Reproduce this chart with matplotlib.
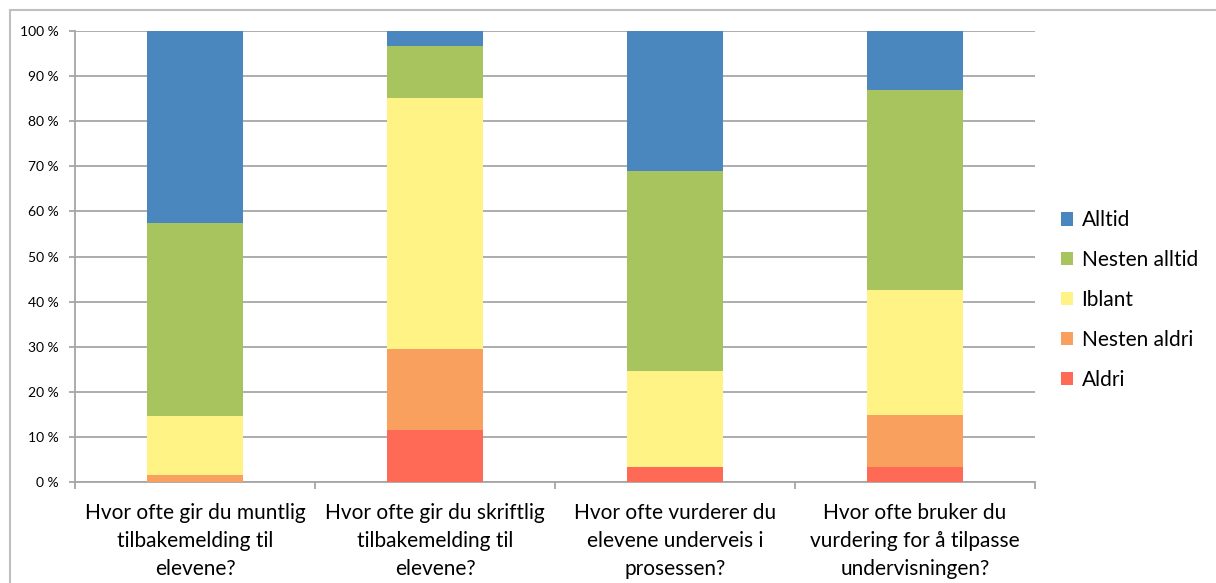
import numpy as np
import matplotlib.pyplot as plt
from matplotlib.lines import Line2D

plt.rcParams['font.family'] = ['Lato', 'DejaVu Sans']

# Spørsmål (kategorier) og svarfordeling i prosent
questions = [
    "Hvor ofte gir du muntlig\ntilbakemelding til\nelevene?",
    "Hvor ofte gir du skriftlig\ntilbakemelding til\nelevene?",
    "Hvor ofte vurderer du\nelevene underveis i\nprosessen?",
    "Hvor ofte bruker du\nvurdering for å tilpasse\nundervisningen?",
]
aldri = [0.0, 11.5, 3.3, 3.3]
nesten_aldri = [1.6, 18.0, 0.0, 11.5]
iblant = [13.1, 55.7, 21.3, 27.8]
nesten_alltid = [42.7, 11.5, 44.3, 44.3]
alltid = [42.6, 3.3, 31.1, 13.1]

series = [
    ("Aldri", aldri, "#FF6A57"),
    ("Nesten aldri", nesten_aldri, "#F9A05E"),
    ("Iblant", iblant, "#FEF384"),
    ("Nesten alltid", nesten_alltid, "#A8C45F"),
    ("Alltid", alltid, "#4A87BE"),
]

fig = plt.figure(figsize=(12.16, 5.83), dpi=100)
ax = fig.add_axes([75 / 1216, 1 - 482 / 583, 960 / 1216, 451 / 583])

x = np.arange(len(questions))
bottom = np.zeros(len(questions))
handles = []
for name, vals, col in series:
    b = ax.bar(x, vals, width=0.4, bottom=bottom, color=col, edgecolor='none',
               label=name, zorder=3)
    bottom += np.array(vals)
    handles.append(b)

ax.set_xlim(-0.5, len(questions) - 0.5)
ax.set_ylim(0, 100)
ax.set_yticks(np.arange(0, 101, 10))
ax.set_yticklabels([f"{v} %" for v in range(0, 101, 10)], fontsize=10)
ax.yaxis.grid(True, color='#A6A6A6', linewidth=1.3, zorder=0)

# kategorigrenser som tick-merker på x-aksen
ax.set_xticks(np.arange(-0.5, len(questions), 1.0))
ax.set_xticklabels([])
ax.set_xticks(x, minor=True)
ax.set_xticklabels(questions, minor=True, fontsize=15, linespacing=1.5)
ax.tick_params(axis='x', which='minor', length=0, pad=15)
ax.tick_params(axis='x', which='major', length=5, color='#A6A6A6', width=1.3)
ax.tick_params(axis='y', length=4, color='#A6A6A6', width=1.3, pad=8)

for s in ['top', 'right']:
    ax.spines[s].set_visible(False)
for s in ['left', 'bottom']:
    ax.spines[s].set_color('#A6A6A6')
    ax.spines[s].set_linewidth(1.3)

leg = fig.legend(handles[::-1], [s[0] for s in series][::-1],
                 loc='center left', bbox_to_anchor=(1042 / 1216, 1 - 300 / 583),
                 frameon=False, fontsize=15, handlelength=0.6, handleheight=0.6,
                 handletextpad=0.4, labelspacing=0.95)

# ramme rundt diagrammet
fig.add_artist(Line2D([10 / 1216, 10 / 1216], [0, 1 - 10 / 583],
                      transform=fig.transFigure, color='#BFBFBF', linewidth=1.5))
fig.add_artist(Line2D([10 / 1216, 1], [1 - 10 / 583, 1 - 10 / 583],
                      transform=fig.transFigure, color='#BFBFBF', linewidth=1.5))

fig.savefig('out.png', dpi=100)
